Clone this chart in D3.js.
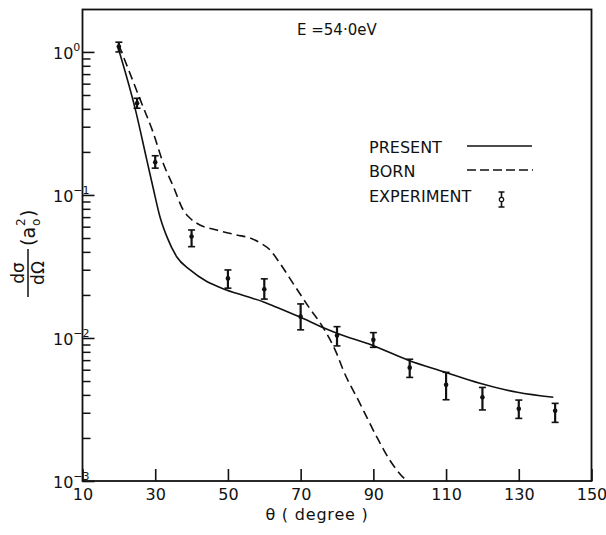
<!DOCTYPE html>
<html>
<head>
<meta charset="utf-8">
<script src="https://cdn.jsdelivr.net/npm/d3@7"></script>
<style>
  body { margin: 0; background: #fff; }
  svg { display: block; font-family: "DejaVu Sans", sans-serif; }
</style>
</head>
<body>
<svg id="chart" width="606" height="535"></svg>
<script>
/* ── data ─────────────────────────────────────────────────────── */

// experiment: angle, value, lower and upper ends of the error bar
const expAngle = [20, 25, 30, 40, 50, 60, 70, 80, 90, 100, 110, 120, 130, 140];
const expValue = [1.09, 0.438, 0.169, 0.0512, 0.0261, 0.0219, 0.0141, 0.0104, 0.0097, 0.0062, 0.0047, 0.00385, 0.0032, 0.0031];
const expLow   = [1.0, 0.404, 0.154, 0.0435, 0.0223, 0.0187, 0.0114, 0.0088, 0.0086, 0.0053, 0.0037, 0.00314, 0.00274, 0.00257];
const expHigh  = [1.17, 0.474, 0.188, 0.0569, 0.0299, 0.0259, 0.0173, 0.0120, 0.0109, 0.0071, 0.00575, 0.00451, 0.00368, 0.00349];

// present theory (solid)
const presentAngle = [19.8, 24.6, 27.7, 29.5, 31.3, 33.2, 35.9, 39.6, 44.2, 48.3, 55.2, 60, 63.4, 69.8, 76.6, 80, 89.7, 99.6, 109.4, 119.3, 129.6, 139.5];
const presentValue = [1.07, 0.39, 0.175, 0.11, 0.0705, 0.0511, 0.037, 0.0299, 0.0248, 0.0223, 0.0195, 0.0178, 0.0164, 0.0140, 0.0117, 0.0108, 0.0089, 0.0070, 0.0058, 0.00482, 0.00417, 0.00385];

// Born approximation (dashed)
const bornAngle = [20, 25.9, 29.5, 32.2, 35, 37.7, 39.6, 42.3, 46.9, 52.4, 56.1, 59, 61.6, 64.3, 68.2, 72.2, 76.2, 79.9, 81.7, 86.3, 90.9, 94.5, 98.9, 99.3];
const bornValue = [1.12, 0.462, 0.27, 0.1667, 0.1143, 0.0785, 0.0687, 0.0617, 0.0569, 0.0525, 0.050, 0.046, 0.0412, 0.0333, 0.0235, 0.0165, 0.0118, 0.0078, 0.00597, 0.00349, 0.00204, 0.0014, 0.00102, 0.001];

const xTicks      = [10, 30, 50, 70, 90, 110, 130, 150];
const yMajorTicks = [1e-3, 1e-2, 1e-1, 1e0];
const yExponents  = ["3", "2", "1", "0"];
const legendLabels = ["PRESENT", "BORN", "EXPERIMENT"];

/* ── layout ──────────────────────────────────────────────────── */
const svg = d3.select("#chart");
const M = { left: 82.5, right: 591.5, top: 9.5, bottom: 481 };

const x = d3.scaleLinear().domain([10, 150]).range([M.left, M.right]);
const y = d3.scaleLog().domain([1e-3, 1.98]).range([M.bottom, M.top]);

// frame
svg.append("rect")
  .attr("x", M.left).attr("y", M.top)
  .attr("width", M.right - M.left).attr("height", M.bottom - M.top)
  .attr("fill", "none").attr("stroke", "#111").attr("stroke-width", 1.8);

// ── x axis
const xAxis = svg.append("g")
  .attr("transform", `translate(0,${M.bottom})`)
  .call(d3.axisBottom(x).tickValues(xTicks).tickSize(-12).tickPadding(8).tickFormat(d3.format("d")));
xAxis.select(".domain").remove();
xAxis.selectAll("line").attr("stroke", "#111").attr("stroke-width", 1.6);
xAxis.selectAll("text").attr("font-size", 16).attr("fill", "#111").attr("font-family", "DejaVu Sans");

// ── y axis, minor ticks
const yMinor = [];
[1e-3, 1e-2, 1e-1, 1e0].forEach(dec => {
  for (let k = 2; k <= 9; k++) if (dec * k <= 1.98) yMinor.push(dec * k);
});
const yMinorAxis = svg.append("g")
  .attr("transform", `translate(${M.left},0)`)
  .call(d3.axisLeft(y).tickValues(yMinor).tickSize(-8).tickFormat(""));
yMinorAxis.select(".domain").remove();
yMinorAxis.selectAll("line").attr("stroke", "#111").attr("stroke-width", 1.5);

// ── y axis, decades
const yAxis = svg.append("g")
  .attr("transform", `translate(${M.left},0)`)
  .call(d3.axisLeft(y).tickValues(yMajorTicks).tickSize(-12).tickFormat(""));
yAxis.select(".domain").remove();
yAxis.selectAll("line").attr("stroke", "#111").attr("stroke-width", 1.6);

yMajorTicks.forEach((v, i) => {
  const t = svg.append("text")
    .attr("x", 53).attr("y", y(v) + 7)
    .attr("font-size", 16).attr("fill", "#111");
  t.append("tspan").text("10");
  t.append("tspan").attr("dy", -8).attr("font-size", 11)
    .text(yExponents[i] === "0" ? "0" : "\u2212" + yExponents[i]);
});

// ── curves
const line = d3.line()
  .x(d => x(d[0]))
  .y(d => y(d[1]))
  .curve(d3.curveMonotoneX);

svg.append("path")
  .datum(presentAngle.map((a, i) => [a, presentValue[i]]))
  .attr("d", line)
  .attr("fill", "none").attr("stroke", "#111").attr("stroke-width", 1.6);

svg.append("path")
  .datum(bornAngle.map((a, i) => [a, bornValue[i]]))
  .attr("d", line)
  .attr("fill", "none").attr("stroke", "#111").attr("stroke-width", 1.6)
  .attr("stroke-dasharray", "9,5");

// ── experiment with error bars
const expData = expAngle.map((a, i) => ({ a, v: expValue[i], lo: expLow[i], hi: expHigh[i] }));
const eg = svg.append("g").attr("stroke", "#111");
const bars = eg.selectAll("g").data(expData).join("g");
bars.append("line")
  .attr("x1", d => x(d.a)).attr("x2", d => x(d.a))
  .attr("y1", d => y(d.lo)).attr("y2", d => y(d.hi))
  .attr("stroke-width", 2.2);
bars.append("line")
  .attr("x1", d => x(d.a) - 3.5).attr("x2", d => x(d.a) + 3.5)
  .attr("y1", d => y(d.hi)).attr("y2", d => y(d.hi))
  .attr("stroke-width", 1.6);
bars.append("line")
  .attr("x1", d => x(d.a) - 3.5).attr("x2", d => x(d.a) + 3.5)
  .attr("y1", d => y(d.lo)).attr("y2", d => y(d.lo))
  .attr("stroke-width", 1.6);
bars.append("circle")
  .attr("cx", d => x(d.a)).attr("cy", d => y(d.v))
  .attr("r", 2.3).attr("fill", "#111").attr("stroke", "none");

// ── energy label
svg.append("text")
  .attr("x", 297).attr("y", 35)
  .attr("font-size", 15).attr("fill", "#111")
  .text("E =54\u00b70eV");

// ── legend
const lg = svg.append("g");
legendLabels.forEach((lbl, i) => {
  lg.append("text")
    .attr("x", 369).attr("y", 153 + i * 24.4)
    .attr("font-size", 16).attr("fill", "#111")
    .text(lbl);
});
lg.append("line")
  .attr("x1", 467).attr("x2", 532).attr("y1", 146).attr("y2", 146)
  .attr("stroke", "#111").attr("stroke-width", 1.5);
lg.append("line")
  .attr("x1", 467).attr("x2", 533).attr("y1", 170).attr("y2", 170)
  .attr("stroke", "#111").attr("stroke-width", 1.5)
  .attr("stroke-dasharray", "9,4");
const ex = 501.5;
lg.append("line").attr("x1", ex).attr("x2", ex).attr("y1", 192).attr("y2", 207)
  .attr("stroke", "#111").attr("stroke-width", 1.6);
lg.append("line").attr("x1", ex - 3).attr("x2", ex + 3).attr("y1", 192).attr("y2", 192)
  .attr("stroke", "#111").attr("stroke-width", 1.5);
lg.append("line").attr("x1", ex - 3).attr("x2", ex + 3).attr("y1", 207).attr("y2", 207)
  .attr("stroke", "#111").attr("stroke-width", 1.5);
lg.append("circle").attr("cx", ex).attr("cy", 199.5).attr("r", 2.2)
  .attr("fill", "#fff").attr("stroke", "#111").attr("stroke-width", 1.2);

// ── axis titles
svg.append("text")
  .attr("x", 317).attr("y", 520)
  .attr("text-anchor", "middle")
  .attr("font-size", 16).attr("fill", "#111")
  .attr("letter-spacing", 0.8)
  .text("\u03b8 ( degree )");

const yl = svg.append("g").attr("transform", "translate(28,297) rotate(-90)").attr("fill", "#111");
yl.append("line").attr("x1", 0).attr("x2", 48).attr("y1", 0).attr("y2", 0)
  .attr("stroke", "#111").attr("stroke-width", 1.5);
yl.append("text").attr("x", 24).attr("y", -4).attr("text-anchor", "middle").attr("font-size", 17).text("d\u03c3");
yl.append("text").attr("x", 24).attr("y", 16).attr("text-anchor", "middle").attr("font-size", 17).text("d\u03a9");
yl.append("text").attr("x", 51).attr("y", 7).attr("font-size", 19).text("(a");
yl.append("text").attr("x", 71).attr("y", -3).attr("font-size", 12).text("2");
yl.append("text").attr("x", 71).attr("y", 12).attr("font-size", 12).text("o");
yl.append("text").attr("x", 80).attr("y", 7).attr("font-size", 19).text(")");
</script>
</body>
</html>
